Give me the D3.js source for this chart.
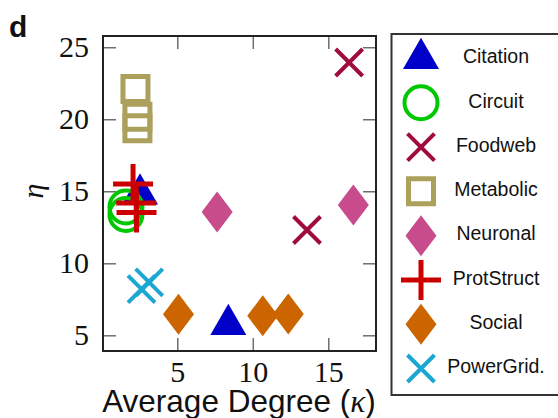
<!DOCTYPE html>
<html>
<head>
<meta charset="utf-8">
<script src="https://cdn.jsdelivr.net/npm/d3@7"></script>
<style>
  html, body { margin: 0; padding: 0; background: #fff; }
  svg { display: block; }
</style>
</head>
<body>
<svg id="chart" width="558" height="418"></svg>
<script>
// - - - - - - - - - - - - - - - - - - - -
// Data
// - - - - - - - - - - - - - - - - - - - -
const seriesNames = ["Citation", "Circuit", "Foodweb", "Metabolic", "Neuronal", "ProtStruct", "Social", "PowerGrid."];

const citationK = [2.53, 8.38];
const citationEta = [14.81, 5.75];
const circuitK = [1.6, 1.6];
const circuitEta = [13.91, 13.39];
const foodwebK = [13.59, 16.38];
const foodwebEta = [12.31, 23.94];
const metabolicK = [2.23, 2.36, 2.36];
const metabolicEta = [22.1, 20.18, 19.38];
const neuronalK = [7.64, 16.66];
const neuronalEta = [13.56, 14.05];
const protStructK = [2.07, 2.28, 2.3];
const protStructEta = [15.51, 14.19, 13.53];
const socialK = [5.08, 10.66, 12.35];
const socialEta = [6.47, 6.35, 6.48];
const powerGridK = [3.14, 2.63];
const powerGridEta = [8.67, 8.2];

const xTicks = [5, 10, 15];
const yTicks = [5, 10, 15, 20, 25];

// - - - - - - - - - - - - - - - - - - - -
// Marker shapes (custom d3.symbol types)
// - - - - - - - - - - - - - - - - - - - -
const triangle = { draw(ctx) {
  const s = 18, h = s * Math.sqrt(3);
  ctx.moveTo(0, -2 * h / 3); ctx.lineTo(s, h / 3); ctx.lineTo(-s, h / 3); ctx.closePath();
} };
const ring = { draw(ctx) { const r = 16.5; ctx.moveTo(r, 0); ctx.arc(0, 0, r, 0, 2 * Math.PI); } };
const times = { draw(ctx) {
  const a = 13.5;
  ctx.moveTo(-a, -a); ctx.lineTo(a, a); ctx.moveTo(a, -a); ctx.lineTo(-a, a);
} };
const square = { draw(ctx) { const a = 12.5; ctx.rect(-a, -a, 2 * a, 2 * a); } };
const diamond = { draw(ctx) {
  const w = 15.5, h = 20.5;
  ctx.moveTo(0, -h); ctx.lineTo(w, 0); ctx.lineTo(0, h); ctx.lineTo(-w, 0); ctx.closePath();
} };
const plus = { draw(ctx) {
  const a = 20;
  ctx.moveTo(-a, 0); ctx.lineTo(a, 0); ctx.moveTo(0, -a); ctx.lineTo(0, a);
} };

const series = [
  { k: citationK, eta: citationEta, color: "#0000c8", type: triangle, filled: true },
  { k: circuitK, eta: circuitEta, color: "#00c800", type: ring, filled: false, sw: 4 },
  { k: foodwebK, eta: foodwebEta, color: "#a00c3e", type: times, filled: false, sw: 4 },
  { k: metabolicK, eta: metabolicEta, color: "#aba05c", type: square, filled: false, sw: 5 },
  { k: neuronalK, eta: neuronalEta, color: "#c84b8b", type: diamond, filled: true },
  { k: protStructK, eta: protStructEta, color: "#cc0000", type: plus, filled: false, sw: 5 },
  { k: socialK, eta: socialEta, color: "#cc6400", type: diamond, filled: true },
  { k: powerGridK, eta: powerGridEta, color: "#1ca6d2", type: times, filled: false, sw: 4 }
];
series.forEach((s, i) => s.name = seriesNames[i]);

const svg = d3.select("#chart");

// scales
const x = d3.scaleLinear().domain([0.08, 18.16]).range([103, 376]);
const y = d3.scaleLinear().domain([3.91, 25.78]).range([351, 36]);

const symbol = d3.symbol();

function styleMarker(sel, s) {
  sel.attr("fill", s.filled ? s.color : "none")
    .attr("stroke", s.filled ? "none" : s.color)
    .attr("stroke-width", s.filled ? 0 : s.sw);
}

// - - - - - - - - - - - - - - - - - - - -
// Axes (inward ticks on all four sides)
// - - - - - - - - - - - - - - - - - - - -
const tickStyle = g => {
  g.select(".domain").remove();
  g.selectAll(".tick line").attr("stroke", "#6e6e6e").attr("stroke-width", 1.5);
  g.selectAll(".tick text").attr("fill", "#111")
    .attr("font-family", "'Liberation Serif', 'DejaVu Serif', serif").attr("font-size", 30);
};

svg.append("g").attr("transform", "translate(0,351)")
  .call(d3.axisBottom(x).tickValues(xTicks).tickSize(-13).tickPadding(10))
  .call(tickStyle);
svg.append("g").attr("transform", "translate(0,36)")
  .call(d3.axisTop(x).tickValues(xTicks).tickSize(-13).tickFormat(""))
  .call(tickStyle);
svg.append("g").attr("transform", "translate(103,0)")
  .call(d3.axisLeft(y).tickValues(yTicks).tickSize(-13).tickPadding(14))
  .call(tickStyle);
svg.append("g").attr("transform", "translate(376,0)")
  .call(d3.axisRight(y).tickValues(yTicks).tickSize(-13).tickFormat(""))
  .call(tickStyle);

// plot frame
svg.append("rect").attr("x", 103).attr("y", 36).attr("width", 273).attr("height", 315)
  .attr("fill", "none").attr("stroke", "#222").attr("stroke-width", 2);

// - - - - - - - - - - - - - - - - - - - -
// Points
// - - - - - - - - - - - - - - - - - - - -
series.forEach(s => {
  svg.append("g").selectAll("path")
    .data(s.k.map((k, i) => ({ k: k, eta: s.eta[i] })))
    .join("path")
    .attr("d", symbol.type(s.type)())
    .attr("transform", d => `translate(${x(d.k)},${y(d.eta)})`)
    .call(sel => styleMarker(sel, s));
});

// - - - - - - - - - - - - - - - - - - - -
// Labels
// - - - - - - - - - - - - - - - - - - - -
svg.append("text").attr("x", 9).attr("y", 36.5)
  .attr("font-family", "'Liberation Sans', Arial, sans-serif").attr("font-weight", "bold")
  .attr("font-size", 30).attr("fill", "#111").text("d");

svg.append("text").attr("transform", "translate(43,191) rotate(-90)")
  .attr("text-anchor", "middle")
  .attr("font-family", "'Liberation Serif', 'DejaVu Serif', serif").attr("font-style", "italic")
  .attr("font-size", 30).attr("fill", "#111").text("η");

const xLabel = svg.append("text").attr("x", 239).attr("y", 412).attr("text-anchor", "middle")
  .attr("font-family", "'Liberation Sans', Arial, sans-serif").attr("font-size", 31.5).attr("fill", "#111");
xLabel.append("tspan").text("Average Degree (");
xLabel.append("tspan").attr("font-family", "'Liberation Serif', serif").attr("font-style", "italic").text("κ");
xLabel.append("tspan").text(")");

// - - - - - - - - - - - - - - - - - - - -
// Legend
// - - - - - - - - - - - - - - - - - - - -
svg.append("rect").attr("x", 391.5).attr("y", 34).attr("width", 170).attr("height", 361)
  .attr("fill", "none").attr("stroke", "#333").attr("stroke-width", 2);

const rowY = d3.scaleLinear().domain([0, series.length - 1]).range([58.5, 368.5]);

series.forEach((s, i) => {
  svg.append("path")
    .attr("d", symbol.type(s.type)())
    .attr("transform", `translate(421,${rowY(i)})`)
    .call(sel => styleMarker(sel, s));

  svg.append("text").attr("x", 496).attr("y", rowY(i) - 2).attr("dy", "0.35em")
    .attr("text-anchor", "middle")
    .attr("font-family", "'Liberation Sans', Arial, sans-serif").attr("font-size", 19.5)
    .attr("fill", "#111").text(s.name);
});
</script>
</body>
</html>
